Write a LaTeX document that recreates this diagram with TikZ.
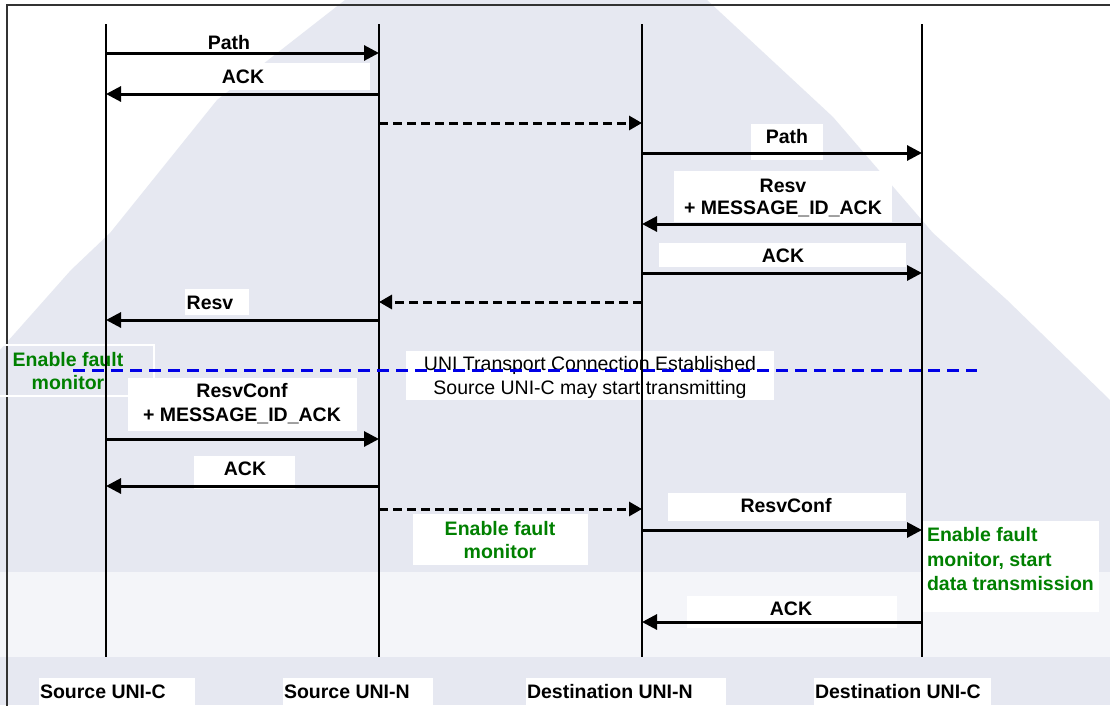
\documentclass[tikz,border=0pt]{standalone}
\usepackage{fontspec}
\setmainfont{Liberation Sans}
\usetikzlibrary{arrows.meta,fit}
\definecolor{wm}{RGB}{230,232,241}
\definecolor{wmlight}{RGB}{244,245,249}
\definecolor{fgreen}{RGB}{0,128,0}
\definecolor{eblue}{RGB}{0,0,230}
\definecolor{framec}{RGB}{50,50,50}
\begin{document}
\begin{tikzpicture}[x=1pt,y=-1pt,
  every node/.style={inner sep=0pt,outer sep=0pt},
  wbox/.style={fill=white,draw=none,inner sep=0pt,outer sep=0pt},
  msg/.style={font=\fontsize{19.5}{23}\selectfont\bfseries,align=center},
  msgB/.style={font=\fontsize{19.5}{24}\selectfont\bfseries,align=center},
  note/.style={font=\fontsize{19.5}{23.3}\selectfont\bfseries,text=fgreen,align=center},
  plaintxt/.style={font=\fontsize{19.5}{24}\selectfont,align=center},
  life/.style={line width=1.8pt},
  sig/.style={line width=3pt,-{Triangle[length=15pt,width=15pt]}},
  async/.style={line width=3pt,dash pattern=on 9pt off 5pt,-{Triangle[length=13pt,width=14pt]}},
  sepline/.style={line width=3pt,eblue,dash pattern=on 12pt off 7pt},
]
\useasboundingbox (0,0) rectangle (1110,705);
% background and watermark
\fill[white] (0,0) rectangle (1110,705);
\fill[wm] (345,0) -- (707,0) -- (833,117) -- (933,233) -- (1007,300) -- (1110,400)
  -- (1110,572) -- (0,572) -- (0,350) -- (71,270) -- (110,233) -- (217,100) -- cycle;
\fill[wmlight] (0,572) rectangle (1110,657);
\fill[wm] (0,657) rectangle (1110,705);
% frame (only top and left visible)
\draw[framec,line width=2pt] (7,712) -- (7,5) -- (1115,5);

% green outline box on the left
\node[draw=white,line width=1.5pt,fill=none,fit={(-3,345) (154,396)}] (gbox1) {};

% white label boxes
\node[wbox,fit={(107,63) (370,90)}] (b2) {};
\node[wbox,fit={(751,124) (823,160)}] (b4) {};
\node[wbox,fit={(674,171) (892,222)}] (b5) {};
\node[wbox,fit={(659,243) (906,267)}] (b6) {};
\node[wbox,fit={(185,289) (249,315)}] (b8) {};
\node[wbox,fit={(406,351) (774,400)}] (bu) {};
\node[wbox,fit={(128,378) (357,431)}] (b9) {};
\node[wbox,fit={(194,456) (295,489)}] (b10) {};
\node[wbox,fit={(413,514) (588,565)}] (bg2) {};
\node[wbox,fit={(668,493) (906,521)}] (b12) {};
\node[wbox,fit={(922,521) (1099,612)}] (bg3) {};
\node[wbox,fit={(687,596) (897,628)}] (b13) {};
\node[wbox,fit={(39,678) (195,712)}] (bl1) {};
\node[wbox,fit={(283,678) (433,712)}] (bl2) {};
\node[wbox,fit={(526,678) (726,712)}] (bl3) {};
\node[wbox,fit={(814,678) (991,712)}] (bl4) {};

% texts
\node[msg,anchor=base] (t1) at (229,49.5) {Path};
\node[msg,anchor=base] (t2) at (243,83) {ACK};
\node[msg,anchor=base] (t4) at (787,143) {Path};
\node[msg,font=\fontsize{19.5}{22}\selectfont\bfseries] (t5) at (783,198) {Resv\\+ MESSAGE\_ID\_ACK};
\node[msg,anchor=base] (t6) at (783,262) {ACK};
\node[msg,anchor=base] (t8) at (210,309) {Resv};
\node[note] (g1) at (68,371.3) {Enable fault\\monitor};
\node[plaintxt] (tu) at (590,377) {UNI Transport Connection Established\\Source UNI-C may start transmitting};
\node[msgB] (t9) at (242,404) {ResvConf\\+ MESSAGE\_ID\_ACK};
\node[msg,anchor=base] (t10) at (245,475) {ACK};
\node[note,font=\fontsize{19.5}{23}\selectfont\bfseries] (g2) at (500,540.4) {Enable fault\\monitor};
\node[msg,anchor=base] (t12) at (786,512) {ResvConf};
\node[note,font=\fontsize{19.5}{24.5}\selectfont\bfseries,align=left,anchor=west] (g3) at (927,559.4) {Enable fault\\monitor, start\\data transmission};
\node[msg,anchor=base] (t13) at (791,615.5) {ACK};
\node[msg,anchor=base west] (l1) at (40,698.5) {Source UNI-C};
\node[msg,anchor=base west] (l2) at (284,698.5) {Source UNI-N};
\node[msg,anchor=base west] (l3) at (527,698.5) {Destination UNI-N};
\node[msg,anchor=base west] (l4) at (815,698.5) {Destination UNI-C};

% lifelines
\coordinate (SCt) at (106,24); \coordinate (SCb) at (106,657);
\coordinate (SNt) at (379,24); \coordinate (SNb) at (379,657);
\coordinate (DNt) at (642,24); \coordinate (DNb) at (642,657);
\coordinate (DCt) at (922,24); \coordinate (DCb) at (922,657);
\draw[life] (SCt) -- (SCb);
\draw[life] (SNt) -- (SNb);
\draw[life] (DNt) -- (DNb);
\draw[life] (DCt) -- (DCb);

% message end points
\coordinate (m1a) at (106,53);  \coordinate (m1b) at (379,53);
\coordinate (m2a) at (379,94);  \coordinate (m2b) at (106,94);
\coordinate (m3a) at (379,123); \coordinate (m3b) at (642,123);
\coordinate (m4a) at (642,153); \coordinate (m4b) at (922,153);
\coordinate (m5a) at (922,224); \coordinate (m5b) at (642,224);
\coordinate (m6a) at (642,273); \coordinate (m6b) at (922,273);
\coordinate (m7a) at (642,302); \coordinate (m7b) at (379,302);
\coordinate (m8a) at (379,320); \coordinate (m8b) at (106,320);
\coordinate (m9a) at (106,439); \coordinate (m9b) at (379,439);
\coordinate (m10a) at (379,486); \coordinate (m10b) at (106,486);
\coordinate (m11a) at (379,509); \coordinate (m11b) at (642,509);
\coordinate (m12a) at (642,530); \coordinate (m12b) at (922,530);
\coordinate (m13a) at (922,622); \coordinate (m13b) at (642,622);
\coordinate (sepa) at (73,370);  \coordinate (sepb) at (977,370);

\draw[sig] (m1a) -- (m1b);
\draw[sig] (m2a) -- (m2b);
\draw[async] (m3a) -- (m3b);
\draw[sig] (m4a) -- (m4b);
\draw[sig] (m5a) -- (m5b);
\draw[sig] (m6a) -- (m6b);
\draw[async] (m7a) -- (m7b);
\draw[sig] (m8a) -- (m8b);
\draw[sig] (m9a) -- (m9b);
\draw[sig] (m10a) -- (m10b);
\draw[async] (m11a) -- (m11b);
\draw[sig] (m12a) -- (m12b);
\draw[sig] (m13a) -- (m13b);
\draw[sepline] (sepa) -- (sepb);
\end{tikzpicture}
\end{document}
